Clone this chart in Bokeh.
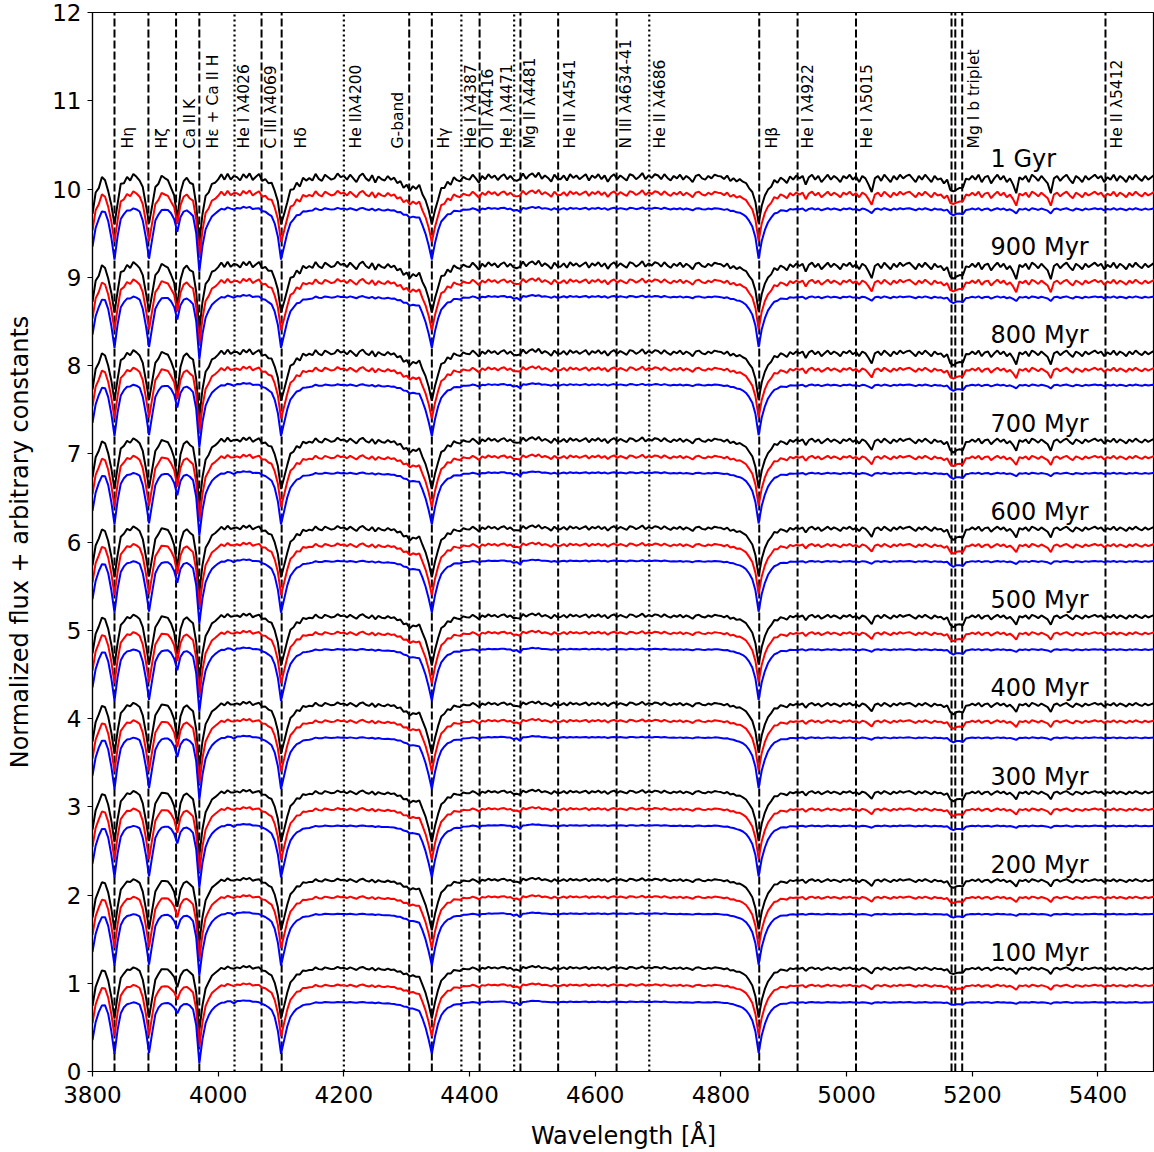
import numpy as np
from bokeh.plotting import figure
from bokeh.models import ColumnDataSource, Range1d, FixedTicker
from bokeh.embed import file_html
from bokeh.resources import INLINE
from bokeh.core.properties import value

# ---------------- data ----------------
# wavelength grid of the template spectra (Angstrom, 5 A steps)
wave = list(range(3800, 5500, 5))

# normalized template flux (continuum, Balmer and He lines)
base_flux = [
    0.56, 0.76, 0.88, 0.95, 0.955, 0.86, 0.66, 0.40, 0.68, 0.86, 0.935, 0.965, 0.98, 0.985, 0.98, 0.965, 0.85, 0.66, 0.41, 0.64,
    0.85, 0.93, 0.965, 0.98, 0.985, 0.98, 0.97, 0.965, 0.97, 0.975, 0.97, 0.955, 0.91, 0.74, 0.31, 0.57, 0.75, 0.845, 0.90, 0.94,
    0.965, 0.98, 0.99, 1.0, 1.005, 0.975, 1.005, 1.01, 1.01, 1.01, 1.005, 1.0, 0.995, 0.985, 0.975, 0.955, 0.935, 0.90, 0.82, 0.66,
    0.40, 0.56, 0.72, 0.82, 0.88, 0.915, 0.94, 0.955, 0.965, 0.965, 0.98, 0.985, 0.985, 0.99, 0.99, 0.99, 0.99, 0.99, 0.99, 0.99,
    0.99, 0.99, 0.99, 0.99, 0.99, 0.99, 0.99, 0.99, 0.99, 0.985, 0.985, 0.985, 0.98, 0.98, 0.975, 0.975, 0.97, 0.965, 0.96, 0.955,
    0.95, 0.94, 0.93, 0.915, 0.89, 0.81, 0.70, 0.56, 0.40, 0.60, 0.75, 0.84, 0.895, 0.925, 0.945, 0.96, 0.97, 0.97, 0.98, 0.985,
    0.99, 0.99, 0.99, 0.985, 0.99, 0.995, 0.995, 0.995, 0.995, 1.0, 1.0, 0.995, 0.995, 0.99, 0.975, 0.99, 0.955, 0.99, 1.0, 1.0,
    1.005, 1.005, 1.0, 1.0, 0.995, 0.995, 0.995, 0.99, 0.985, 0.995, 0.995, 0.995, 0.995, 0.995, 0.995, 0.995, 0.995, 0.995, 0.995, 0.995,
    0.995, 0.995, 0.995, 0.995, 0.995, 0.995, 0.995, 0.995, 0.995, 0.995, 0.995, 0.995, 0.995, 0.995, 0.995, 0.995, 0.995, 0.995, 0.995, 0.995,
    0.995, 0.995, 0.995, 0.995, 0.995, 0.99, 0.99, 0.99, 0.99, 0.99, 0.99, 0.99, 0.99, 0.99, 0.99, 0.99, 0.99, 0.99, 0.99, 0.99,
    0.985, 0.983, 0.98, 0.975, 0.965, 0.955, 0.94, 0.925, 0.895, 0.85, 0.78, 0.65, 0.41, 0.61, 0.74, 0.835, 0.895, 0.93, 0.955, 0.97,
    0.975, 0.98, 0.985, 0.99, 0.98, 0.99, 0.99, 0.99, 0.99, 0.99, 0.99, 0.99, 0.99, 0.99, 0.99, 0.99, 0.99, 0.99, 0.99, 0.99,
    0.99, 0.99, 0.99, 0.985, 0.99, 0.99, 0.99, 0.99, 0.99, 0.99, 0.99, 0.99, 0.99, 0.99, 0.99, 0.99, 0.99, 0.99, 0.99, 0.99,
    0.99, 0.99, 0.99, 0.99, 0.99, 0.99, 0.99, 0.99, 0.99, 0.99, 0.99, 0.99, 0.99, 0.99, 0.99, 0.99, 0.99, 0.99, 0.99, 0.99,
    0.99, 0.99, 0.99, 0.99, 0.99, 0.99, 0.99, 0.99, 0.99, 0.99, 0.99, 0.99, 0.99, 0.99, 0.99, 0.99, 0.99, 0.99, 0.99, 0.99,
    0.99, 0.99, 0.99, 0.99, 0.99, 0.99, 0.99, 0.99, 0.99, 0.99, 0.99, 0.99, 0.99, 0.99, 0.99, 0.99, 0.99, 0.99, 0.99, 0.99,
    0.99, 0.99, 0.99, 0.99, 0.99, 0.99, 0.99, 0.99, 0.99, 0.99, 0.99, 0.99, 0.99, 0.99, 0.99, 0.99, 0.99, 0.99, 0.99, 0.99,
]

# weak metal-line absorption depth (black model at 1 Gyr)
metal_depth = [
    0.03, 0.00, 0.05, 0.01, 0.04, 0.06, 0.03, 0.00, 0.03, 0.00, 0.05, 0.02, 0.06, 0.01, 0.03, 0.05, 0.02, 0.03, 0.00, 0.02,
    0.02, 0.05, 0.01, 0.04, 0.06, 0.09, 0.03, 0.00, 0.05, 0.04, 0.03, 0.06, 0.04, 0.06, 0.05, 0.04, 0.02, 0.06, 0.03, 0.05,
    0.04, 0.01, 0.06, 0.02, 0.07, 0.02, 0.05, 0.08, 0.03, 0.06, 0.02, 0.07, 0.04, 0.01, 0.06, 0.03, 0.05, 0.02, 0.03, 0.00,
    0.00, 0.03, 0.05, 0.02, 0.06, 0.03, 0.08, 0.02, 0.05, 0.03, 0.06, 0.01, 0.05, 0.07, 0.02, 0.04, 0.06, 0.05, 0.01, 0.04,
    0.03, 0.06, 0.02, 0.05, 0.08, 0.03, 0.01, 0.05, 0.07, 0.02, 0.08, 0.03, 0.05, 0.06, 0.02, 0.05, 0.03, 0.07, 0.05, 0.08,
    0.03, 0.05, 0.02, 0.06, 0.03, 0.05, 0.02, 0.00, 0.00, 0.03, 0.05, 0.02, 0.06, 0.03, 0.07, 0.02, 0.05, 0.06, 0.03, 0.05,
    0.06, 0.02, 0.05, 0.08, 0.03, 0.06, 0.02, 0.05, 0.03, 0.07, 0.04, 0.02, 0.06, 0.03, 0.05, 0.07, 0.03, 0.01, 0.06, 0.03,
    0.02, 0.05, 0.01, 0.06, 0.03, 0.05, 0.08, 0.02, 0.05, 0.06, 0.03, 0.07, 0.02, 0.05, 0.03, 0.06, 0.04, 0.02, 0.07, 0.03,
    0.05, 0.02, 0.06, 0.03, 0.08, 0.04, 0.02, 0.06, 0.03, 0.05, 0.07, 0.02, 0.03, 0.06, 0.04, 0.01, 0.06, 0.03, 0.05, 0.02,
    0.03, 0.06, 0.02, 0.05, 0.07, 0.03, 0.05, 0.02, 0.06, 0.03, 0.05, 0.08, 0.03, 0.02, 0.05, 0.06, 0.03, 0.05, 0.02, 0.03,
    0.03, 0.05, 0.02, 0.06, 0.03, 0.05, 0.02, 0.03, 0.02, 0.03, 0.01, 0.00, 0.00, 0.00, 0.01, 0.03, 0.05, 0.02, 0.06, 0.03,
    0.05, 0.08, 0.03, 0.06, 0.02, 0.05, 0.03, 0.10, 0.04, 0.02, 0.06, 0.03, 0.08, 0.05, 0.02, 0.06, 0.03, 0.05, 0.08, 0.03,
    0.05, 0.02, 0.06, 0.03, 0.08, 0.03, 0.05, 0.10, 0.16, 0.05, 0.03, 0.07, 0.02, 0.05, 0.08, 0.03, 0.06, 0.02, 0.05, 0.03,
    0.02, 0.05, 0.08, 0.03, 0.06, 0.02, 0.05, 0.08, 0.03, 0.06, 0.05, 0.09, 0.06, 0.10, 0.07, 0.09, 0.07, 0.04, 0.03, 0.06,
    0.03, 0.06, 0.02, 0.08, 0.04, 0.03, 0.09, 0.05, 0.02, 0.06, 0.03, 0.08, 0.05, 0.10, 0.17, 0.04, 0.06, 0.03, 0.08, 0.02,
    0.04, 0.07, 0.03, 0.06, 0.09, 0.17, 0.05, 0.03, 0.07, 0.04, 0.02, 0.06, 0.09, 0.03, 0.05, 0.08, 0.03, 0.06, 0.04, 0.02,
    0.05, 0.03, 0.08, 0.04, 0.06, 0.02, 0.07, 0.03, 0.05, 0.08, 0.03, 0.06, 0.02, 0.05, 0.07, 0.03, 0.06, 0.04, 0.02, 0.05,
]

# strong metal features (Ca II K/H, G-band, Mg I b), depth for black model at 1 Gyr
strong_wave = [3925, 3930, 3935, 3940, 3945, 3965, 3970, 4295, 4300, 4305, 4310, 4315, 5165, 5170, 5175, 5180, 5185, 5190]
strong_depth = [0.04, 0.20, 0.50, 0.14, 0.03, 0.03, 0.05, 0.03, 0.06, 0.09, 0.07, 0.03, 0.06, 0.12, 0.07, 0.08, 0.12, 0.03]

ages = ["100 Myr", "200 Myr", "300 Myr", "400 Myr", "500 Myr",
        "600 Myr", "700 Myr", "800 Myr", "900 Myr", "1 Gyr"]
age_offset = [0, 1, 2, 3, 4, 5, 6, 7, 8, 9]
age_strong = [0.42, 0.60, 0.72, 0.80, 0.87, 0.91, 0.94, 0.96, 0.98, 1.00]
age_wiggle = [0.50, 0.55, 0.62, 0.68, 0.75, 0.82, 0.92, 1.05, 1.25, 1.40]

model_colors = ["black", "red", "blue"]
model_offset = [0.2, 0.0, -0.2]
model_strong = [1.0, 0.72, 0.5]
model_wiggle = [1.0, 0.75, 0.28]

# spectral line markers
vline_wave = [3835, 3889, 3933, 3970, 4026, 4069, 4101, 4200, 4304, 4340, 4387, 4416,
              4471, 4481, 4541, 4634, 4686, 4861, 4922, 5015, 5167, 5173, 5184, 5412]
vline_dotted = [False, False, False, False, True, False, False, True, False, False, True, False,
                True, False, False, False, True, False, False, False, False, False, False, False]

label_text = ["Hη", "Hζ", "Ca II K", "Hε + Ca II H", "He I λ4026", "C III λ4069", "Hδ",
              "He IIλ4200", "G-band", "Hγ", "He I λ4387", "O II λ4416", "He I λ4471",
              "Mg II λ4481", "He II λ4541", "N III λ4634-41", "He II λ4686", "Hβ",
              "He I λ4922", "He I λ5015", "Mg I b triplet", "He II λ5412"]
label_x = [3857, 3911, 3955, 3991, 4041, 4084, 4131, 4220, 4286, 4359, 4402, 4430,
           4459.5, 4497, 4560, 4649.5, 4703, 4881, 4939, 5033, 5203, 5430]

x_ticks = [3800, 4000, 4200, 4400, 4600, 4800, 5000, 5200, 5400]
y_ticks = [0, 1, 2, 3, 4, 5, 6, 7, 8, 9, 10, 11, 12]

FONT = "DejaVu Sans"

# ---------------- figure ----------------
p = figure(width=1154, height=1152, output_backend="svg", toolbar_location=None,
           x_range=Range1d(3800, 5490), y_range=Range1d(0, 12),
           min_border_left=92, min_border_right=0, min_border_top=12, min_border_bottom=80)
p.background_fill_color = "white"
p.border_fill_color = "white"
p.outline_line_color = "black"
p.outline_line_width = 1.2
p.xgrid.visible = False
p.ygrid.visible = False

for ax in (p.xaxis[0], p.yaxis[0]):
    ax.axis_line_color = "black"
    ax.axis_line_width = 1.2
    ax.major_tick_line_color = "black"
    ax.major_tick_line_width = 1.2
    ax.major_tick_out = 5
    ax.major_tick_in = 0
    ax.minor_tick_line_color = None
    ax.major_label_text_font = FONT
    ax.major_label_text_font_size = "23px"
    ax.major_label_text_color = "black"
    ax.axis_label_text_font = FONT
    ax.axis_label_text_font_size = "24px"
    ax.axis_label_text_font_style = "normal"
    ax.axis_label_text_color = "black"

p.xaxis[0].major_label_standoff = 9
p.yaxis[0].major_label_standoff = 6
p.xaxis[0].ticker = FixedTicker(ticks=x_ticks)
p.yaxis[0].ticker = FixedTicker(ticks=y_ticks)
p.xaxis[0].axis_label = "Wavelength [Å]"
p.yaxis[0].axis_label = "Normalized flux + arbitrary constants"
p.xaxis[0].axis_label_standoff = 16
p.yaxis[0].axis_label_standoff = 15

# vertical line markers
xd = [w for w, d in zip(vline_wave, vline_dotted) if not d]
xo = [w for w, d in zip(vline_wave, vline_dotted) if d]
p.segment(x0=xd, x1=xd, y0=[0] * len(xd), y1=[12] * len(xd),
          line_color="black", line_width=2, line_dash="8 3")
p.segment(x0=xo, x1=xo, y0=[0] * len(xo), y1=[12] * len(xo),
          line_color="black", line_width=2.2, line_dash="2 3")

# spectra
wave_arr = np.array(wave, dtype=float)
base_arr = np.array(base_flux)
metal_arr = np.array(metal_depth)
strong_arr = np.zeros(len(wave))
for w, d in zip(strong_wave, strong_depth):
    strong_arr[wave.index(w)] += d

for i in range(len(ages)):
    for c in range(len(model_colors)):
        flux = (base_arr + model_offset[c] + age_offset[i]
                - model_wiggle[c] * age_wiggle[i] * metal_arr
                - model_strong[c] * age_strong[i] * strong_arr)
        src = ColumnDataSource(dict(x=wave_arr, y=flux))
        p.line("x", "y", source=src, line_color=model_colors[c], line_width=2)

# line labels
lab_src = ColumnDataSource(dict(x=label_x, y=[10.46] * len(label_x), t=label_text))
p.text("x", "y", text="t", source=lab_src, angle=np.pi / 2,
       text_font=value(FONT), text_font_size="15.5px", text_color="black",
       text_align="left", text_baseline="middle")

# age labels
age_src = ColumnDataSource(dict(x=[5229] * len(ages),
                                y=[o + 1.34 for o in age_offset], t=ages))
p.text("x", "y", text="t", source=age_src,
       text_font=value(FONT), text_font_size="24px", text_color="black",
       text_align="left", text_baseline="alphabetic")

open("out.html", "w").write(file_html(p, INLINE))
